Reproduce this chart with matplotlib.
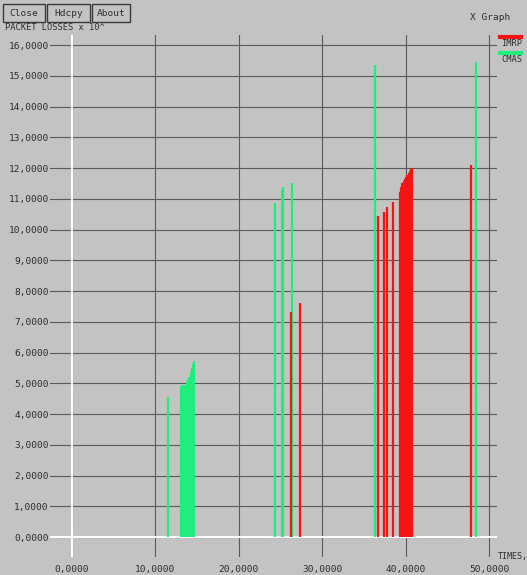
import matplotlib
matplotlib.use("Agg")
import matplotlib.pyplot as plt
from matplotlib.lines import Line2D

# Packet losses (x 10^4) over time for two protocols
imrp_times = [26.3, 27.35, 36.7, 37.4, 37.75, 38.43,
              39.3, 39.45, 39.6, 39.75, 39.9, 40.05, 40.2, 40.35, 40.5, 40.65, 40.8,
              47.8]
imrp_losses = [7.32, 7.6, 10.44, 10.58, 10.74, 10.9,
               11.23, 11.38, 11.5, 11.58, 11.64, 11.7, 11.78, 11.84, 11.9, 11.96, 12.0,
               12.1]

cmas_times = [11.55,
              13.05, 13.2, 13.35, 13.5, 13.65, 13.8, 13.95, 14.1, 14.25, 14.4, 14.55, 14.7,
              24.3, 25.2, 25.35, 26.4,
              36.3, 48.4]
cmas_losses = [4.55,
               4.92, 4.94, 4.95, 4.95, 4.96, 5.05, 5.12, 5.22, 5.36, 5.5, 5.64, 5.72,
               10.86, 11.3, 11.38, 11.5,
               15.35, 15.46]

x_ticks = [0, 10, 20, 30, 40, 50]
x_tick_labels = ["0,0000", "10,0000", "20,0000", "30,0000", "40,0000", "50,0000"]
y_ticks = list(range(0, 17))
y_tick_labels = [f"{v},0000" for v in y_ticks]

BG = "#c3c3c3"
GRID = "#5a5a5a"
TEXT = "#2e2e2e"
RED = "#f41414"
GREEN = "#20ee7c"
MONO = "DejaVu Sans Mono"

W, H = 527, 575
fig = plt.figure(figsize=(W / 100, H / 100), dpi=100, facecolor=BG)

left, right, top, bottom = 50, 497, 35, 557
ax = fig.add_axes([left / W, 1 - bottom / H, (right - left) / W, (bottom - top) / H])
ax.set_facecolor(BG)
for s in ax.spines.values():
    s.set_visible(False)

ax.set_xlim(-2.6, 50.93)
ax.set_ylim(-0.65, 16.33)

ax.set_xticks(x_ticks)
ax.set_xticklabels(x_tick_labels)
ax.set_yticks(y_ticks)
ax.set_yticklabels(y_tick_labels)
ax.tick_params(length=0, colors=TEXT, labelsize=6.8)
ax.tick_params(axis="x", pad=6)
ax.tick_params(axis="y", pad=1)
for lab in ax.get_xticklabels() + ax.get_yticklabels():
    lab.set_family(MONO)

ax.grid(True, color=GRID, linewidth=0.8)
ax.set_axisbelow(True)
ax.axhline(0, color="white", linewidth=1.5, zorder=1.5)
ax.axvline(0, color="white", linewidth=1.5, zorder=1.5)

ax.vlines(cmas_times, 0, cmas_losses, colors=GREEN, linewidth=1.6, zorder=2)
ax.vlines(imrp_times, 0, imrp_losses, colors=RED, linewidth=1.6, zorder=2.1)

# window chrome: buttons and titles
for label, x0, x1 in [("Close", 3, 45), ("Hdcpy", 47, 90), ("About", 92, 130)]:
    fig.patches.append(plt.Rectangle((x0 / W, 1 - 22 / H), (x1 - x0) / W, 18 / H,
                                     transform=fig.transFigure, facecolor=BG,
                                     edgecolor="#3a3a3a", linewidth=1.0))
    fig.text((x0 + x1) / 2 / W, 1 - 13 / H, label, ha="center", va="center",
             family=MONO, fontsize=6.8, color=TEXT)
fig.text(5 / W, 1 - 27 / H, "PACKET LOSSES x 10^", ha="left", va="center",
         family=MONO, fontsize=6.3, color=TEXT)
fig.text(490 / W, 1 - 17 / H, "X Graph", ha="center", va="center",
         family=MONO, fontsize=6.8, color=TEXT)
fig.text(498 / W, 1 - 556 / H, "TIMES,", ha="left", va="center",
         family=MONO, fontsize=6, color=TEXT)

# legend
fig.lines.append(Line2D([500 / W, 521 / W], [1 - 37 / H, 1 - 37 / H],
                        transform=fig.transFigure, color=RED, linewidth=3))
fig.text(501 / W, 1 - 44 / H, "IMRP", ha="left", va="center",
         family=MONO, fontsize=6.3, color=TEXT)
fig.lines.append(Line2D([500 / W, 521 / W], [1 - 53 / H, 1 - 53 / H],
                        transform=fig.transFigure, color=GREEN, linewidth=3))
fig.text(501 / W, 1 - 60 / H, "CMAS", ha="left", va="center",
         family=MONO, fontsize=6.3, color=TEXT)

fig.savefig("out.png", dpi=100, facecolor=BG)
